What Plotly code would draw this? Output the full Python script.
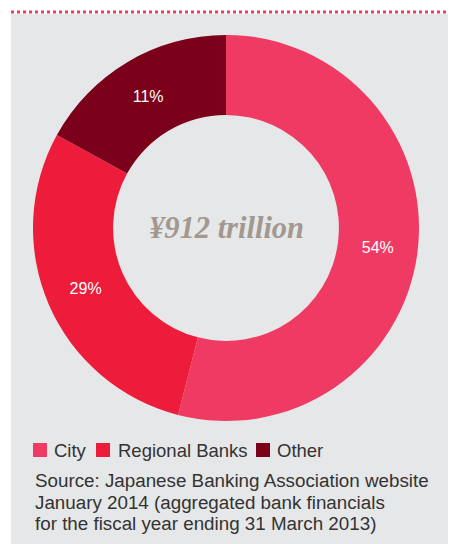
import plotly.graph_objects as go

categories = ["City", "Regional Banks", "Other"]
shares = [54, 29, 17]                 # slice sizes as drawn
share_labels = ["54%", "29%", "11%"]  # labels as printed
colors = ["#ef3b63", "#ee1c3b", "#7b0019"]
center_text = "¥912 trillion"
source_lines = [
    "Source: Japanese Banking Association website",
    "January 2014 (aggregated bank financials",
    "for the fiscal year ending 31 March 2013)",
]

# layout constants (page pixels; the page body has an 8px margin)
OFF = 8
FW, FH = 456 - OFF, 544 - OFF
def px(x): return (x - OFF) / FW
def py(y): return 1 - (y - OFF) / FH

CX, CY, R = 226, 228, 193
legend_sq_x = [33, 96, 256]
legend_txt_x = [52, 116, 275]
legend_y = 450
source_y = [480, 502, 523.5]
FONT = "Liberation Sans"
TXT = "#333333"

fig = go.Figure(go.Pie(
    labels=categories, values=shares, text=share_labels,
    textinfo="text", textposition="inside", insidetextorientation="horizontal",
    textfont=dict(color="white", size=16, family=FONT),
    marker=dict(colors=colors, line=dict(width=0)),
    hole=0.585, sort=False, direction="clockwise", rotation=0,
    domain=dict(x=[px(CX - R), px(CX + R)], y=[py(CY + R), py(CY - R)]),
    hoverinfo="label+text", showlegend=False,
))

fig.add_shape(type="rect", xref="paper", yref="paper", x0=px(11), x1=1.02, y0=-0.02, y1=py(14),
              fillcolor="#e6e7e8", line=dict(width=0), layer="below")
fig.add_shape(type="line", xref="paper", yref="paper", x0=px(11), x1=1.02, y0=py(12), y1=py(12),
              line=dict(color="#ef3b63", width=3, dash="dot"))

fig.add_annotation(x=px(CX), y=py(CY), xref="paper", yref="paper", text="<b><i>" + center_text + "</i></b>",
                   showarrow=False, font=dict(family="Liberation Serif", size=30.5, color="#a39890"))

for i, cat in enumerate(categories):
    fig.add_shape(type="rect", xref="paper", yref="paper",
                  x0=px(legend_sq_x[i]), x1=px(legend_sq_x[i] + 14),
                  y0=py(legend_y + 7), y1=py(legend_y - 7),
                  fillcolor=colors[i], line=dict(width=0))
    fig.add_annotation(x=px(legend_txt_x[i]), y=py(legend_y), xref="paper", yref="paper",
                       xanchor="left", yanchor="middle", text=cat, showarrow=False,
                       font=dict(family=FONT, size=18.5, color=TXT))

for line, yy in zip(source_lines, source_y):
    fig.add_annotation(x=px(33), y=py(yy), xref="paper", yref="paper", xanchor="left", yanchor="middle",
                       text=line, showarrow=False, font=dict(family=FONT, size=18.8, color=TXT))

fig.update_layout(
    width=FW, height=FH, margin=dict(l=0, r=0, t=0, b=0),
    paper_bgcolor="white", plot_bgcolor="white", showlegend=False,
)
fig.write_html("out.html")
